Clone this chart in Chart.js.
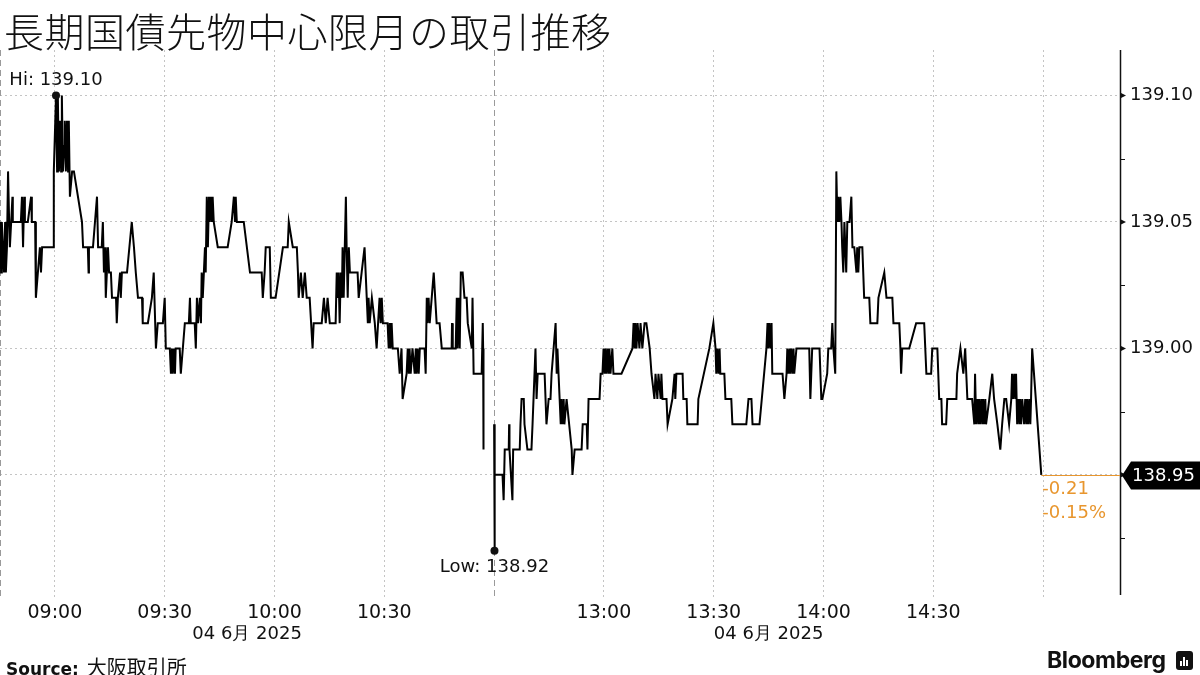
<!DOCTYPE html>
<html>
<head>
<meta charset="utf-8">
<script src="https://cdn.jsdelivr.net/npm/chart.js@4.4.1/dist/chart.umd.min.js"></script>
<style>
  body { margin: 0; background: #fff; }
  #wrap { position: relative; width: 1200px; height: 675px; overflow: hidden; }
  #title { position: absolute; left: 4px; top: 1px; font-family: "Noto Sans CJK JP", sans-serif; font-size: 40px; font-weight: 300; color: #111; letter-spacing: 0.5px; }
  #source { position: absolute; left: 6px; top: 652px; font-family: "DejaVu Sans", sans-serif; font-size: 17px; color: #111; }
  #source b { font-weight: 700; }
  #source span { font-family: "Noto Sans CJK JP", sans-serif; font-size: 20px; margin-left: 8px; }
  #brand { position: absolute; left: 1047px; top: 646px; font-family: "Inter", "Liberation Sans", sans-serif; font-size: 23px; font-weight: 700; color: #111; letter-spacing: -0.4px; }
  #logo { position: absolute; left: 1176px; top: 651px; width: 17px; height: 19px; background: #111; border-radius: 3px; }
  #logo i { position: absolute; bottom: 4px; width: 2px; background: #fff; }
  canvas { position: absolute; left: 0; top: 0; }
</style>
</head>
<body>
<div id="wrap">
  <canvas id="chart" width="1200" height="675"></canvas>
  <div id="title">長期国債先物中心限月の取引推移</div>
  <div id="source"><b>Source:</b><span>大阪取引所</span></div>
  <div id="brand">Bloomberg</div>
  <div id="logo"><i style="left:4px;height:5px"></i><i style="left:7px;height:9px"></i><i style="left:10px;height:6px"></i></div>
</div>
<script>
// trading minutes since the 08:45 open, lunch break (11:00-12:30) squeezed out
const tradeMin = [
  0.0, 0.3, 0.5, 0.8, 1.1, 1.4, 1.6, 1.9, 2.2, 2.5, 2.7, 3.4, 3.5, 5.7, 6.0, 6.3, 6.6, 6.8, 7.6, 8.5,
  8.7, 9.6, 9.8, 10.9, 11.2, 11.5, 14.5, 14.7, 15.3, 15.6, 15.8, 16.1, 16.4, 16.7, 16.9, 17.2, 17.5, 17.7, 18.0, 18.3,
  18.6, 18.8, 19.1, 19.7, 20.2, 22.4, 22.7, 24.0, 24.2, 24.3, 25.4, 26.5, 26.8, 27.8, 28.1, 28.4, 28.7, 28.9, 29.2, 29.5,
  29.8, 30.3, 30.6, 31.7, 31.9, 32.2, 32.8, 33.0, 33.3, 34.7, 36.0, 36.6, 37.1, 37.7, 38.8, 39.0, 40.4, 41.5, 42.0, 42.6,
  43.1, 44.5, 45.0, 45.3, 46.4, 46.7, 47.0, 47.2, 47.5, 47.8, 48.0, 49.1, 49.4, 50.5, 51.6, 51.9, 52.1, 53.2, 53.5, 53.8,
  54.1, 54.6, 54.9, 55.1, 55.4, 55.7, 56.0, 56.2, 56.5, 56.8, 57.1, 57.3, 57.6, 57.9, 58.1, 58.4, 59.5, 62.2, 63.3, 63.9,
  64.2, 64.4, 64.7, 66.6, 68.3, 71.5, 71.8, 72.3, 72.6, 73.7, 74.0, 75.3, 77.3, 78.6, 78.9, 80.0, 81.1, 81.4, 81.6, 82.2,
  82.7, 83.3, 83.8, 84.6, 85.4, 85.7, 87.9, 88.5, 89.0, 89.5, 90.1, 91.7, 92.0, 92.3, 92.5, 92.8, 93.1, 93.4, 93.6, 93.9,
  94.2, 94.5, 94.7, 95.0, 95.3, 95.6, 97.7, 98.0, 98.8, 99.6, 100.2, 100.5, 100.7, 101.0, 101.6, 102.4, 102.9, 103.7, 104.0, 104.3,
  104.6, 105.9, 106.2, 106.5, 106.7, 107.0, 107.3, 108.7, 109.2, 109.7, 110.0, 111.1, 111.4, 111.7, 111.9, 112.2, 112.7, 113.3, 113.6, 113.8,
  114.1, 114.4, 114.7, 116.0, 116.3, 116.6, 116.8, 117.1, 117.4, 118.5, 119.3, 120.1, 120.7, 123.4, 123.5, 123.7, 124.5, 124.8, 125.0, 125.3,
  125.6, 125.9, 126.4, 126.9, 127.5, 127.8, 128.9, 129.1, 129.4, 131.6, 131.9, 132.0, 132.1,
  133.5,
  135.0, 135.1, 135.2, 137.3, 137.6, 137.9, 139.0, 139.1, 139.2, 140.0, 140.2, 142.0, 142.2, 142.5, 143.1, 143.3, 144.1, 145.2, 145.5, 146.3,
  146.6, 146.9, 148.8, 149.3, 149.9, 150.4, 150.7, 151.8, 152.1, 152.3, 152.9, 153.2, 153.4, 153.7, 154.0, 154.2, 154.8, 156.2, 156.4, 157.0,
  158.9, 159.2, 160.3, 160.5, 160.8, 163.8, 164.1, 164.6, 164.9, 165.2, 165.4, 165.7, 166.0, 166.3, 166.5, 166.8, 167.3, 167.6, 169.8, 172.8,
  173.1, 173.4, 173.6, 173.9, 174.2, 174.7, 175.0, 175.5, 176.1, 176.6, 177.5, 178.0, 178.8, 179.1, 179.6, 179.9, 180.5, 180.7, 181.0, 182.1,
  182.4, 183.7, 184.3, 184.5, 184.8, 185.1, 186.5, 186.7, 187.6, 187.8, 190.6, 190.8, 193.8, 194.9, 195.5, 195.7, 196.0, 196.3, 196.6, 196.8,
  197.9, 198.2, 199.8, 200.1, 203.9, 204.5, 205.3, 205.6, 207.5, 209.4, 209.7, 209.9, 210.2, 210.5, 210.8, 211.0, 213.8, 214.3, 214.9, 215.1,
  215.4, 215.7, 215.9, 216.2, 216.5, 216.8, 217.0, 217.6, 221.1, 221.4, 221.9, 223.9, 224.4, 224.7, 226.0, 226.3, 227.1, 227.4, 227.7, 228.2,
  228.5, 228.8, 229.0, 229.3, 229.6, 229.9, 230.1, 230.4, 230.7, 231.2, 231.5, 232.1, 232.6, 232.9, 233.4, 234.0, 234.2, 234.5, 234.8, 235.6,
  236.1, 237.5, 237.8, 239.7, 240.0, 241.6, 242.2, 243.8, 244.1, 245.7, 246.0, 246.2, 246.5, 247.1, 248.4, 250.3, 252.5, 253.1, 254.4, 254.7,
  256.1, 256.6, 257.2, 257.4, 258.5, 258.8, 261.3, 261.5, 262.4, 263.2, 263.7, 264.3, 265.6, 266.2, 266.4, 266.7, 267.0, 267.3, 267.5, 267.8,
  268.1, 268.4, 268.6, 268.9, 269.2, 269.4, 270.3, 271.1, 271.6, 272.5, 273.3, 273.8, 274.4, 274.9, 275.7, 276.3, 276.5, 276.8, 277.1, 277.4,
  277.6, 277.9, 278.2, 278.5, 278.7, 279.0, 279.3, 279.8, 280.1, 280.4, 280.6, 280.9, 281.2, 281.5, 281.7, 282.0, 284.5
];
const price = [
  139.05, 139.03, 139.05, 139.04, 139.03, 139.05, 139.03, 139.04, 139.07, 139.05, 139.04, 139.06, 139.05, 139.05, 139.06, 139.04, 139.06, 139.05, 139.05, 139.06,
  139.05, 139.05, 139.02, 139.04, 139.03, 139.04, 139.04, 139.07, 139.10, 139.07, 139.10, 139.07, 139.09, 139.07, 139.10, 139.07, 139.08, 139.09, 139.07, 139.09,
  139.07, 139.09, 139.06, 139.07, 139.07, 139.05, 139.04, 139.04, 139.03, 139.04, 139.04, 139.06, 139.04, 139.04, 139.05, 139.03, 139.04, 139.02, 139.03, 139.04,
  139.03, 139.03, 139.02, 139.02, 139.01, 139.02, 139.03, 139.02, 139.03, 139.03, 139.05, 139.04, 139.03, 139.02, 139.02, 139.01, 139.01, 139.02, 139.03, 139.00,
  139.01, 139.01, 139.02, 139.00, 139.00, 138.99, 139.00, 138.99, 139.00, 138.99, 139.00, 139.00, 138.99, 139.01, 139.01, 139.02, 139.01, 139.01, 139.00, 139.02,
  139.01, 139.02, 139.01, 139.03, 139.02, 139.03, 139.04, 139.03, 139.06, 139.04, 139.06, 139.05, 139.06, 139.05, 139.06, 139.05, 139.04, 139.04, 139.05, 139.06,
  139.05, 139.06, 139.05, 139.05, 139.03, 139.03, 139.02, 139.03, 139.04, 139.04, 139.02, 139.02, 139.04, 139.04, 139.05, 139.04, 139.04, 139.03, 139.02, 139.03,
  139.02, 139.03, 139.02, 139.02, 139.00, 139.01, 139.01, 139.02, 139.01, 139.02, 139.01, 139.01, 139.03, 139.02, 139.03, 139.01, 139.03, 139.02, 139.04, 139.02,
  139.04, 139.06, 139.04, 139.02, 139.04, 139.03, 139.03, 139.02, 139.03, 139.04, 139.02, 139.01, 139.02, 139.01, 139.02, 139.01, 139.00, 139.02, 139.01, 139.02,
  139.01, 139.01, 139.00, 139.01, 139.00, 139.01, 139.00, 139.00, 138.99, 139.00, 138.98, 138.99, 139.00, 138.99, 139.00, 138.99, 139.00, 138.99, 139.00, 138.99,
  139.00, 138.99, 139.00, 139.00, 138.99, 139.02, 139.01, 139.02, 139.01, 139.03, 139.01, 139.01, 139.00, 139.00, 139.01, 139.00, 139.00, 139.02, 139.00, 139.02,
  139.00, 139.03, 139.03, 139.02, 139.02, 139.01, 139.00, 139.02, 138.99, 138.99, 139.01, 139.00, 138.96,
  null,
  138.97, 138.92, 138.95, 138.95, 138.94, 138.96, 138.96, 138.97, 138.96, 138.94, 138.96, 138.96, 138.97, 138.98, 138.98, 138.97, 138.96, 138.96, 138.97, 139.00,
  138.98, 138.99, 138.99, 138.97, 138.98, 138.98, 138.99, 139.01, 138.99, 139.00, 138.98, 138.97, 138.98, 138.97, 138.98, 138.97, 138.98, 138.96, 138.95, 138.96,
  138.96, 138.97, 138.97, 138.96, 138.98, 138.98, 138.99, 138.99, 139.00, 138.99, 139.00, 138.99, 139.00, 138.99, 139.00, 138.99, 139.00, 138.99, 138.99, 139.00,
  139.01, 139.00, 139.01, 139.00, 139.01, 139.00, 139.01, 139.00, 139.01, 139.01, 139.00, 138.99, 138.98, 138.99, 138.98, 138.99, 138.98, 138.99, 138.98, 138.98,
  138.97, 138.98, 138.99, 138.98, 138.99, 138.99, 138.99, 138.98, 138.98, 138.97, 138.97, 138.98, 139.00, 139.01, 139.00, 138.99, 139.00, 138.99, 139.00, 138.99,
  138.99, 138.98, 138.98, 138.97, 138.97, 138.98, 138.98, 138.97, 138.97, 139.00, 139.01, 139.00, 139.01, 139.00, 139.01, 138.99, 138.99, 138.98, 138.99, 139.00,
  138.99, 139.00, 138.99, 139.00, 138.99, 139.00, 138.99, 139.00, 139.00, 138.98, 139.00, 139.00, 138.98, 138.98, 138.99, 139.00, 139.00, 139.01, 139.00, 138.99,
  139.07, 139.05, 139.06, 139.05, 139.06, 139.05, 139.04, 139.03, 139.05, 139.03, 139.05, 139.05, 139.06, 139.04, 139.04, 139.03, 139.04, 139.03, 139.04, 139.04,
  139.02, 139.02, 139.01, 139.01, 139.02, 139.03, 139.02, 139.02, 139.01, 139.01, 139.00, 138.99, 139.00, 139.00, 139.00, 139.01, 139.01, 138.99, 138.99, 139.00,
  139.00, 138.98, 138.98, 138.97, 138.97, 138.98, 138.98, 138.99, 139.00, 138.99, 139.00, 138.98, 138.98, 138.97, 138.99, 138.97, 138.98, 138.97, 138.98, 138.97,
  138.98, 138.97, 138.98, 138.97, 138.98, 138.97, 138.98, 138.99, 138.98, 138.97, 138.96, 138.97, 138.98, 138.98, 138.97, 138.98, 138.99, 138.98, 138.99, 138.98,
  138.99, 138.97, 138.98, 138.97, 138.98, 138.97, 138.98, 138.97, 138.98, 138.97, 138.98, 138.97, 138.98, 138.97, 138.98, 139.00, 138.95
];

const xTickMins = [15, 45, 75, 105, 165, 195, 225, 255, 285];
const xTickLabels = ['09:00', '09:30', '10:00', '10:30', '13:00', '13:30', '14:00', '14:30', ''];
const sessionStarts = [0, 135];          // 08:45 and 12:30 opens
const sessionMids = [67.5, 210];         // where the date line goes
const dateLabel = '04 6月 2025';
const yTicks = [138.95, 139.00, 139.05, 139.10];
const yMinor = [138.925, 138.975, 139.025, 139.075];
const netChange = '-0.21';
const pctChange = '-0.15%';

const points = tradeMin.map(function (t, i) { return { x: t, y: price[i] }; });

const ORANGE = '#e8962e';

const extras = {
  id: 'extras',
  beforeDatasetsDraw: function (chart) {
    const c = chart.ctx, a = chart.chartArea, xs = chart.scales.x;
    c.save();
    c.strokeStyle = '#9a9a9a';
    c.lineWidth = 1;
    c.setLineDash([6, 4]);
    sessionStarts.forEach(function (m) {
      const px = Math.round(xs.getPixelForValue(m)) + 0.5;
      c.beginPath();
      c.moveTo(px, a.top);
      c.lineTo(px, a.bottom + 5);
      c.stroke();
    });
    c.restore();
  },
  afterDraw: function (chart) {
    const c = chart.ctx, a = chart.chartArea, xs = chart.scales.x, ys = chart.scales.y;
    c.save();
    // price axis line, minor ticks, arrow heads
    c.fillStyle = '#111';
    c.strokeStyle = '#111';
    c.lineWidth = 1.5;
    c.beginPath(); c.moveTo(a.right + 0.5, a.top); c.lineTo(a.right + 0.5, a.bottom); c.stroke();
    c.lineWidth = 1;
    yMinor.forEach(function (v) {
      const py = Math.round(ys.getPixelForValue(v)) + 0.5;
      c.beginPath(); c.moveTo(a.right, py); c.lineTo(a.right + 5, py); c.stroke();
    });
    yTicks.forEach(function (v) {
      const py = ys.getPixelForValue(v);
      c.beginPath();
      c.moveTo(a.right, py - 3); c.lineTo(a.right + 6, py); c.lineTo(a.right, py + 3);
      c.closePath(); c.fill();
    });

    // date line under each session
    c.font = '18px "DejaVu Sans"';
    c.fillStyle = '#111';
    c.textAlign = 'center';
    c.textBaseline = 'middle';
    sessionMids.forEach(function (m) {
      c.fillText(dateLabel, xs.getPixelForValue(m), 634);
    });

    // hi / low markers
    let hi = 0, lo = 0;
    price.forEach(function (p, i) {
      if (p === null) return;
      if (p > price[hi]) hi = i;
      if (p < price[lo]) lo = i;
    });
    [[hi, 'Hi: ', -15], [lo, 'Low: ', 17]].forEach(function (h) {
      const px = xs.getPixelForValue(tradeMin[h[0]]);
      const py = ys.getPixelForValue(price[h[0]]);
      c.beginPath(); c.arc(px, py, 4, 0, Math.PI * 2); c.fill();
      c.fillText(h[1] + price[h[0]].toFixed(2), px, py + h[2]);
    });

    // last price: orange leader + black tag
    const li = price.length - 1;
    const lx = xs.getPixelForValue(tradeMin[li]);
    const ly = Math.round(ys.getPixelForValue(price[li])) + 0.5;
    c.strokeStyle = ORANGE;
    c.lineWidth = 1;
    c.beginPath(); c.moveTo(lx, ly); c.lineTo(a.right, ly); c.stroke();
    c.fillStyle = ORANGE;
    c.textAlign = 'left';
    c.fillText(netChange, lx + 1, ly + 14);
    c.fillText(pctChange, lx + 1, ly + 38);

    c.fillStyle = '#000';
    c.beginPath();
    c.moveTo(a.right + 2, ly);
    c.lineTo(a.right + 11, ly - 14);
    c.lineTo(1200, ly - 14);
    c.lineTo(1200, ly + 14);
    c.lineTo(a.right + 11, ly + 14);
    c.closePath();
    c.fill();
    c.fillStyle = '#fff';
    c.fillText(price[li].toFixed(2), a.right + 12, ly + 1);
    c.restore();
  }
};

new Chart(document.getElementById('chart'), {
  type: 'line',
  data: {
    datasets: [{
      data: points,
      borderColor: '#000',
      borderWidth: 2,
      pointRadius: 0,
      tension: 0,
      spanGaps: false
    }]
  },
  options: {
    responsive: false,
    animation: false,
    layout: { padding: { top: 50, left: 0, right: 0, bottom: 0 } },
    plugins: { legend: { display: false }, tooltip: { enabled: false } },
    scales: {
      x: {
        type: 'linear',
        min: 0,
        max: 306,
        afterBuildTicks: function (scale) {
          scale.ticks = xTickMins.map(function (v) { return { value: v }; });
        },
        afterFit: function (scale) { scale.height = 80; },
        border: { display: false, dash: [2, 3] },
        grid: { color: '#c4c4c4', tickLength: 4, tickBorderDash: [2, 3] },
        ticks: {
          color: '#111',
          font: { family: 'DejaVu Sans', size: 19 },
          padding: 3,
          maxRotation: 0,
          autoSkip: false,
          callback: function (v, i) { return xTickLabels[i]; }
        }
      },
      y: {
        position: 'right',
        min: 138.9025,
        max: 139.118,
        afterBuildTicks: function (scale) {
          scale.ticks = yTicks.map(function (v) { return { value: v }; });
        },
        afterFit: function (scale) { scale.width = 80; },
        border: { display: false, dash: [2, 3] },
        grid: { color: '#c4c4c4', drawTicks: false },
        ticks: {
          color: '#111',
          font: { family: 'DejaVu Sans', size: 18 },
          padding: 10,
          callback: function (v) { return Number(v).toFixed(2); }
        }
      }
    }
  },
  plugins: [extras]
});
</script>
</body>
</html>
